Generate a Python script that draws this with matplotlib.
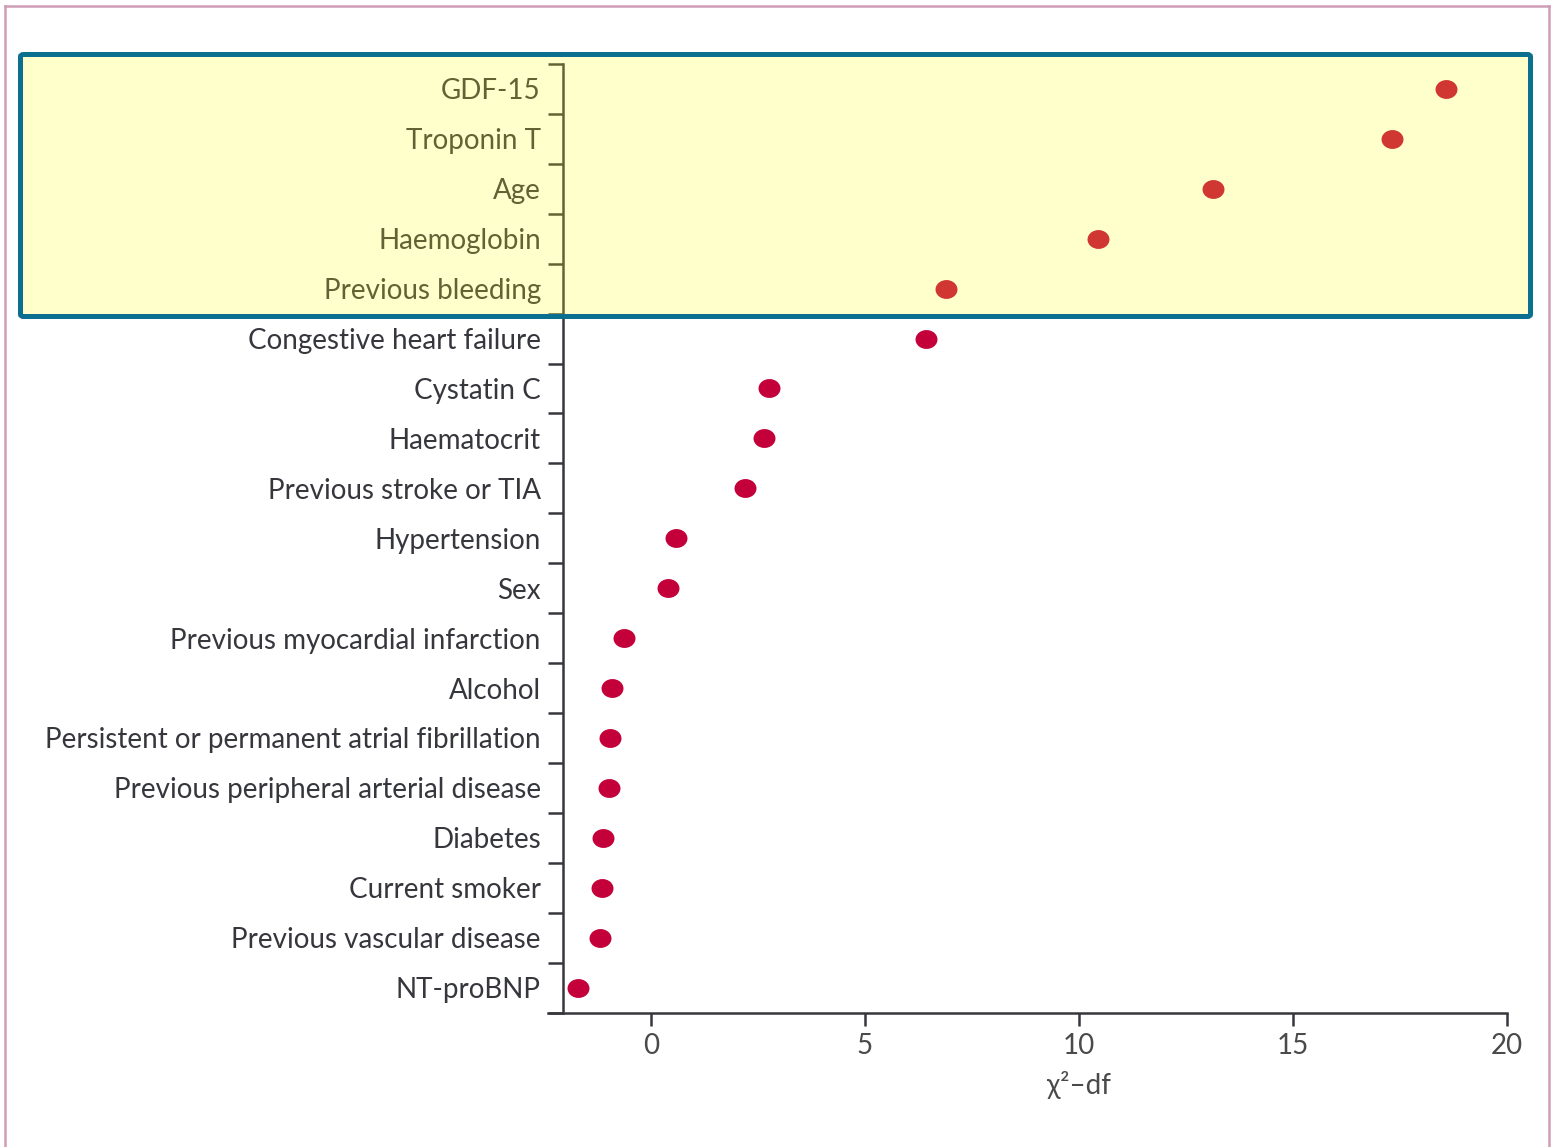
import matplotlib
matplotlib.use("Agg")
import matplotlib.pyplot as plt
import matplotlib.patches as mpatches
from matplotlib.lines import Line2D
from matplotlib.path import Path
from matplotlib.transforms import Affine2D

plt.rcParams['font.family'] = ['Lato', 'DejaVu Sans']

# Predictors ranked by contribution to the model (chi-square minus degrees of freedom)
predictors = [
    "GDF-15", "Troponin T", "Age", "Haemoglobin", "Previous bleeding",
    "Congestive heart failure", "Cystatin C", "Haematocrit",
    "Previous stroke or TIA", "Hypertension", "Sex",
    "Previous myocardial infarction", "Alcohol",
    "Persistent or permanent atrial fibrillation",
    "Previous peripheral arterial disease", "Diabetes", "Current smoker",
    "Previous vascular disease", "NT-proBNP",
]
chi2_minus_df = [
    18.57, 17.31, 13.13, 10.44, 6.89,
    6.43, 2.76, 2.64,
    2.20, 0.58, 0.40,
    -0.63, -0.91,
    -0.96,
    -0.98, -1.12, -1.14,
    -1.19, -1.71,
]
x_ticks = [0, 5, 10, 15, 20]
n_highlight = 5  # top predictors in the highlighted block

W, H, DPI = 1552, 1147, 100
fig = plt.figure(figsize=(W / DPI, H / DPI), dpi=DPI)
fig.patch.set_facecolor("white")

def fx(px):
    return px / W

def fy(py):
    return 1 - py / H

ax_left, ax_right, ax_top, ax_bottom = 548, 1507, 64, 1012.5
ax = fig.add_axes([fx(ax_left), fy(ax_bottom), fx(ax_right - ax_left),
                   (ax_bottom - ax_top) / H])
ax.set_facecolor("none")

ink = "#36373d"
dot_color = "#c4003a"
fs = 20

ypos = list(range(len(predictors)))
# slightly flattened round marker
ell = Path.unit_circle().transformed(Affine2D().scale(1.0, 0.86))
ax.scatter(chi2_minus_df, ypos, s=250, marker=ell, color=dot_color,
           linewidths=0, zorder=3, clip_on=False)

ax.set_xlim(-2.4, 20)
ax.set_ylim(len(predictors) - 0.5, -0.5)

for s in ("top", "right"):
    ax.spines[s].set_visible(False)
ax.spines["left"].set_position(("data", -2.05))
for s in ("left", "bottom"):
    ax.spines[s].set_color(ink)
    ax.spines[s].set_linewidth(1.8)

# category boundaries as ticks, names centred between them
ax.set_yticks([i - 0.5 for i in range(len(predictors) + 1)])
ax.set_yticklabels([])
ax.set_yticks(ypos, minor=True)
ax.set_yticklabels(predictors, minor=True)
ax.tick_params(axis="y", which="major", direction="out", length=11,
               width=1.8, color=ink)
ax.tick_params(axis="y", which="minor", length=0, pad=16, labelsize=fs,
               labelcolor=ink)

ax.set_xticks(x_ticks)
ax.set_xticklabels([str(t) for t in x_ticks])
ax.tick_params(axis="x", direction="out", length=9, width=1.8, color=ink,
               pad=6, labelsize=fs, labelcolor="#4a4a4a")

ax.text(10, -0.062, "χ²–df", transform=ax.get_xaxis_transform(),
        ha="center", va="top", fontsize=fs, color="#4a4a4a")

# translucent yellow highlight over the top predictors
box_l, box_r, box_t, box_b = 20.5, 1530.5, 54.5, 316.5
fig.patches.append(mpatches.Rectangle(
    (fx(box_l), fy(box_b)), fx(box_r - box_l), (box_b - box_t) / H,
    transform=fig.transFigure, facecolor=(1, 1, 0.1), alpha=0.22,
    edgecolor="none", zorder=10))
fig.patches.append(mpatches.FancyBboxPatch(
    (fx(box_l), fy(box_b)), fx(box_r - box_l), (box_b - box_t) / H,
    boxstyle="round,pad=0,rounding_size=0.002",
    transform=fig.transFigure, facecolor="none", edgecolor="#0b6f8f",
    linewidth=3.6, zorder=11))

# outer page frame
frame = "#cf9db5"
for xs, ys in (([4.5, 4.5], [H + 5, 6]), ([4.5, 1548.5], [6, 6]),
               ([1548.5, 1548.5], [6, H + 5])):
    fig.lines.append(Line2D([fx(v) for v in xs], [fy(v) for v in ys],
                            transform=fig.transFigure, color=frame,
                            linewidth=1.8, zorder=12))

fig.savefig("out.png", dpi=DPI)
